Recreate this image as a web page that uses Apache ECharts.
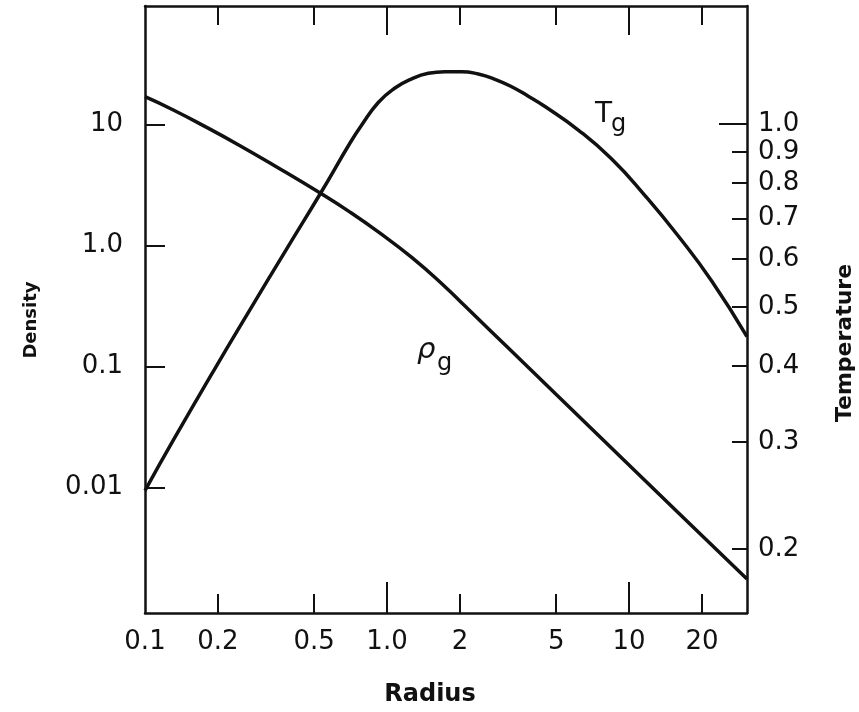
<!DOCTYPE html>
<html>
<head>
<meta charset="utf-8">
<title>Gas density and temperature profiles</title>
<script src="https://cdn.jsdelivr.net/npm/echarts@6/dist/echarts.min.js"></script>
<style>
  html, body { margin: 0; padding: 0; background: #fff; }
  #chart { width: 859px; height: 712px; }
</style>
</head>
<body>
<div id="chart"></div>
<script>
// Gas density profile (left axis)
const radiusRho = [0.1, 0.1309, 0.1798, 0.2469, 0.3389, 0.5335, 0.7032, 0.9201, 1.2645, 1.7358, 2.0994, 3.2734, 4.9407, 8.4760, 15.967, 30.7];
const density   = [16.93, 13.15, 9.445, 6.669, 4.620, 2.682, 1.883, 1.292, 0.7967, 0.4563, 0.3155, 0.1335, 0.06009, 0.02115, 0.006188, 0.001757];

// Gas temperature profile (right axis)
const radiusTg = [0.1, 0.1309, 0.1978, 0.2632, 0.3850, 0.5335, 0.7032, 0.7858, 0.9201, 1.0785, 1.2645, 1.4808, 1.7358, 2.0345, 2.3823, 2.7926, 3.2734, 3.8333, 4.4937, 6.1683, 8.4760, 11.633, 15.967, 21.943, 30.7];
const tempTg   = [0.2496, 0.3021, 0.4009, 0.4852, 0.6238, 0.7722, 0.9313, 0.9970, 1.0857, 1.1470, 1.1878, 1.2128, 1.2202, 1.2202, 1.2094, 1.1855, 1.1527, 1.1119, 1.0694, 0.9783, 0.8765, 0.7632, 0.6548, 0.5521, 0.4471];

// Radius axis ticks and labels
const xLabelValues = [0.1, 0.2, 0.5, 1, 2, 5, 10, 20];
const xLabelTexts  = ['0.1', '0.2', '0.5', '1.0', '2', '5', '10', '20'];
const xMajorTicks  = [1, 10];
const xMinorTicks  = [0.2, 0.5, 2, 5, 20];

// Density axis ticks and labels
const densityTicks  = [0.01, 0.1, 1, 10];
const densityLabels = ['0.01', '0.1', '1.0', '10'];

// Temperature axis ticks and labels
const tempTicks  = [0.2, 0.3, 0.4, 0.5, 0.6, 0.7, 0.8, 0.9, 1.0];
const tempLabels = ['0.2', '0.3', '0.4', '0.5', '0.6', '0.7', '0.8', '0.9', '1.0'];

const INK = '#111';
const FONT = '"DejaVu Sans", sans-serif';

function lookup(values, texts) {
  return function (v) {
    for (let i = 0; i < values.length; i++) {
      if (Math.abs(v - values[i]) / values[i] < 1e-6) return texts[i];
    }
    return '';
  };
}

function tickAxis(base, ticks, len, showLine) {
  return Object.assign({
    axisLine: { show: showLine, lineStyle: { color: INK, width: 2.5 } },
    axisTick: { show: true, inside: true, length: len, customValues: ticks, lineStyle: { color: INK, width: 2 } },
    axisLabel: { show: false },
    splitLine: { show: false }
  }, base);
}

const X_RANGE = { type: 'log', logBase: 10, min: 0.1, max: 30.7, gridIndex: 0 };
const RHO_RANGE = { type: 'log', logBase: 10, min: 0.00092, max: 95 };
const T_RANGE = { type: 'log', logBase: 10, min: 0.157, max: 1.565 };

const chart = echarts.init(document.getElementById('chart'), null, { renderer: 'canvas' });

chart.setOption({
  backgroundColor: '#fff',
  animation: false,
  grid: { left: 145, right: 112, top: 6, bottom: 99, outerBoundsMode: 'none' },
  xAxis: [
    Object.assign(tickAxis(Object.assign({ position: 'bottom' }, X_RANGE), xMinorTicks, 19, true), {
      axisLabel: {
        show: true, customValues: xLabelValues, margin: 16,
        formatter: lookup(xLabelValues, xLabelTexts),
        color: INK, fontFamily: FONT, fontSize: 26
      }
    }),
    tickAxis(Object.assign({ position: 'bottom' }, X_RANGE), xMajorTicks, 31, false),
    tickAxis(Object.assign({ position: 'top' }, X_RANGE), xMinorTicks, 19, true),
    tickAxis(Object.assign({ position: 'top' }, X_RANGE), xMajorTicks, 29, false)
  ],
  yAxis: [
    Object.assign(tickAxis(Object.assign({ position: 'left' }, RHO_RANGE), densityTicks, 20, true), {
      axisLabel: {
        show: true, customValues: densityTicks, margin: 22,
        formatter: lookup(densityTicks, densityLabels),
        color: INK, fontFamily: FONT, fontSize: 26
      }
    }),
    Object.assign(tickAxis(Object.assign({ position: 'right' }, T_RANGE), tempTicks, 15, true), {
      axisLabel: {
        show: true, customValues: tempTicks, margin: 11,
        formatter: lookup(tempTicks, tempLabels),
        color: INK, fontFamily: FONT, fontSize: 26
      }
    }),
    tickAxis(Object.assign({ position: 'right' }, T_RANGE), [1.0], 28, false)
  ],
  series: [
    {
      name: 'ρg',
      type: 'line',
      xAxisIndex: 0,
      yAxisIndex: 0,
      data: radiusRho.map((r, i) => [r, density[i]]),
      showSymbol: false,
      smooth: 0.5,
      lineStyle: { color: INK, width: 3.5 },
      z: 3
    },
    {
      name: 'Tg',
      type: 'line',
      xAxisIndex: 0,
      yAxisIndex: 1,
      data: radiusTg.map((r, i) => [r, tempTg[i]]),
      showSymbol: false,
      smooth: 0.5,
      lineStyle: { color: INK, width: 3.5 },
      z: 3
    }
  ],
  graphic: [
    // axis titles
    { type: 'text', x: 430, y: 695, style: { text: 'Radius', fill: INK, font: 'bold 24px ' + FONT, textAlign: 'center', textVerticalAlign: 'middle' } },
    { type: 'text', x: 31, y: 320, rotation: Math.PI / 2, style: { text: 'Density', fill: INK, font: 'bold 18px ' + FONT, textAlign: 'center', textVerticalAlign: 'middle' } },
    { type: 'text', x: 845, y: 343, rotation: Math.PI / 2, style: { text: 'Temperature', fill: INK, font: 'bold 22px ' + FONT, textAlign: 'center', textVerticalAlign: 'middle' } },
    // curve labels with subscripts
    { type: 'text', x: 595, y: 115, style: { text: 'T', fill: INK, font: '28px ' + FONT, textAlign: 'left', textVerticalAlign: 'middle' } },
    { type: 'text', x: 611, y: 125, style: { text: 'g', fill: INK, font: '24px ' + FONT, textAlign: 'left', textVerticalAlign: 'middle' } },
    { type: 'text', x: 417, y: 350, style: { text: 'ρ', fill: INK, font: 'italic 29px ' + FONT, textAlign: 'left', textVerticalAlign: 'middle' } },
    { type: 'text', x: 437, y: 364, style: { text: 'g', fill: INK, font: '24px ' + FONT, textAlign: 'left', textVerticalAlign: 'middle' } }
  ]
});
</script>
</body>
</html>
